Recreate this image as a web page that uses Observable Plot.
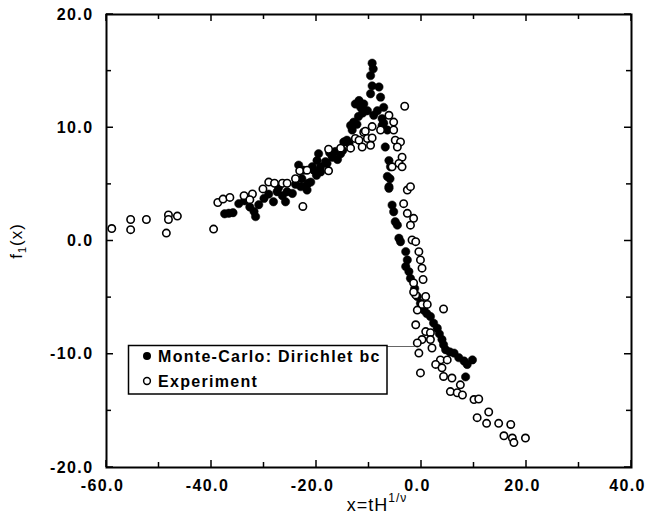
<!DOCTYPE html>
<html>
<head>
<meta charset="utf-8">
<script src="https://cdn.jsdelivr.net/npm/d3@7"></script>
<script src="https://cdn.jsdelivr.net/npm/@observablehq/plot@0.6"></script>
<style>
  html, body { margin: 0; padding: 0; background: #fff; }
  #chart { width: 648px; height: 520px; }
</style>
</head>
<body>
<div id="chart"></div>
<script>
// Monte-Carlo: Dirichlet bc (filled)
const mcX = [-37.5,-36.7,-35.9,-34.8,-33.7,-32.7,-31.9,-31.6,-31.0,-30.0,-28.2,-29.1,-27.5,-27.2,-26.5,-25.9,-25.6,-24.6,-24.0,-23.0,-22.8,-21.8,-21.1,-22.1,-21.6,-23.4,-22.5,-20.8,-20.5,-20.0,-19.9,-19.6,-19.2,-19.2,-18.3,-18.0,-17.5,-17.0,-16.4,-16.0,-15.4,-15.0,-14.8,-14.2,-13.8,-13.5,-13.2,-12.9,-12.3,-12.6,-11.9,-11.6,-11.0,-10.3,-9.1,-7.5,-7.5,-7.2,-8.4,-7.2,-7.8,-9.7,-8.1,-9.4,-9.7,-9.2,-9.4,-6.5,-6.9,-6.2,-5.9,-6.5,-6.0,-6.2,-6.2,-5.6,-5.3,-5.0,-4.6,-4.3,-4.0,-3.0,-2.7,-3.0,-2.4,-2.1,-1.3,-0.8,-0.2,0.4,0.4,1.0,1.7,2.3,3.0,3.4,3.9,4.2,4.6,5.4,6.2,7.1,8.1,8.7,9.7,8.4,-12.0,-11.2];
const mcY = [2.4,2.45,2.5,3.3,3.55,3.0,2.6,2.15,3.2,3.76,3.46,4.14,4.35,4.73,4.0,3.46,4.35,4.2,5.0,4.8,5.5,4.5,5.2,4.8,5.1,6.7,6.25,6.55,6.25,5.8,7.1,7.7,6.1,6.55,7.0,6.85,7.8,7.4,7.9,7.2,7.7,8.0,8.75,8.9,8.6,10.2,9.8,10.5,10.3,12.1,12.4,11.8,12.1,11.5,11.1,10.8,10.2,10.4,11.5,11.8,12.7,13.0,13.6,13.7,14.6,15.2,15.7,9.8,8.3,7.1,6.55,5.7,5.5,4.8,4.65,3.17,2.58,1.7,1.4,0.24,-0.06,-0.94,-1.67,-2.26,-2.7,-3.3,-4.2,-4.9,-5.5,-5.9,-6.1,-6.4,-6.67,-7.25,-7.7,-8.2,-8.7,-9.16,-9.6,-9.8,-9.9,-10.3,-10.6,-10.9,-10.5,-12.0,11.0,11.3];

// Experiment (open)
const expX = [-59.0,-55.4,-55.4,-52.4,-48.6,-48.2,-48.2,-46.5,-39.6,-38.8,-37.8,-36.5,-33.8,-32.2,-32.7,-30.2,-29.1,-28.0,-26.5,-25.6,-24.0,-22.6,-23.2,-21.8,-17.7,-17.7,-15.4,-13.5,-12.6,-11.9,-11.3,-11.0,-10.7,-10.3,-9.4,-9.4,-9.7,-7.8,-6.2,-5.3,-5.3,-3.2,-5.0,-4.0,-4.6,-3.7,-4.3,-3.7,-5.6,-2.7,-2.1,-3.4,-2.7,-1.5,-2.1,-1.8,-1.1,-0.5,-0.2,0.1,0.3,-1.5,-1.1,0.8,4.2,0.1,-1.5,1.1,-0.8,-1.1,0.8,1.7,0.1,1.7,-0.8,2.0,-0.5,3.6,4.9,2.7,3.9,-0.2,4.2,5.8,7.4,5.5,6.8,7.8,10.0,10.9,12.8,10.6,12.4,14.7,17.0,15.7,17.3,17.6,19.8];
const expY = [1.1,1.9,1.0,1.9,0.7,2.3,1.9,2.2,1.05,3.4,3.7,3.85,4.0,4.15,3.65,4.6,5.2,5.1,5.1,5.1,5.5,3.05,6.2,6.25,6.2,8.1,8.2,8.2,9.05,8.9,8.3,9.6,9.7,9.05,10.1,9.1,8.45,9.8,11.1,10.5,9.8,11.9,8.9,8.75,8.3,7.4,6.85,6.55,6.55,4.5,4.8,3.3,2.44,2.0,1.4,0.09,-0.06,-0.94,-1.67,-2.4,-3.4,-3.7,-4.76,-4.9,-6.0,-5.6,-4.5,-5.6,-6.1,-7.4,-8.0,-8.1,-8.7,-8.7,-9.0,-9.45,-9.9,-10.5,-10.5,-10.9,-11.2,-11.65,-11.96,-12.1,-12.7,-13.3,-13.4,-13.6,-14.0,-13.95,-15.1,-15.6,-16.1,-16.1,-16.2,-17.2,-17.4,-17.8,-17.4];

const xMajor = [-60, -40, -20, 0, 20, 40];
const xMinor = [-50, -30, -10, 10, 30];
const yMajor = [-20, -10, 0, 10, 20];
const yMinor = [-15, -5, 5, 15];
const legendLabels = ["Monte-Carlo: Dirichlet bc", "Experiment"];

const mc = mcX.map((x, i) => ({x, y: mcY[i]}));
const ex = expX.map((x, i) => ({x, y: expY[i]}));
const fmt = d => d.toFixed(1);

const FONT = "'Liberation Sans', Arial, Helvetica, sans-serif";

const chart = Plot.plot({
  width: 648,
  height: 520,
  marginLeft: 106,
  marginRight: 17,
  marginTop: 14,
  marginBottom: 53,
  x: {domain: [-60, 40]},
  y: {domain: [-20, 20]},
  style: {fontFamily: FONT, fontSize: "16px", fontWeight: "bold", background: "#fff", color: "#000", letterSpacing: "1.4px"},
  marks: [
    Plot.axisX({ticks: xMajor, tickSize: 0, tickPadding: 12, tickFormat: fmt, label: null, fontSize: 16, dx: -4}),
    Plot.axisY({ticks: yMajor, tickSize: 0, tickPadding: 13, tickFormat: fmt, label: null, fontSize: 16}),
    Plot.dot(mc, {x: "x", y: "y", r: 4.2, fill: "#000", stroke: "#000", strokeWidth: 0.5}),
    Plot.dot(ex, {x: "x", y: "y", r: 3.7, fill: "#fff", stroke: "#000", strokeWidth: 1.6}),
    Plot.frame({stroke: "#000", strokeWidth: 2})
  ]
});

document.getElementById("chart").appendChild(chart);

const svg = d3.select(chart);
const sx = chart.scale("x");
const sy = chart.scale("y");
const X0 = 106, X1 = 631, Y0 = 14, Y1 = 467;

// Inward tick marks on all four sides, placed with the chart's scales
const tg = svg.append("g").attr("stroke", "#000").attr("stroke-width", 1.5);
const xt = [...xMajor.map(v => [v, 7]), ...xMinor.map(v => [v, 5])];
const yt = [...yMajor.map(v => [v, 7]), ...yMinor.map(v => [v, 5])];
xt.forEach(([v, l]) => {
  const px = sx.apply(v);
  tg.append("line").attr("x1", px).attr("x2", px).attr("y1", Y1).attr("y2", Y1 - l);
  tg.append("line").attr("x1", px).attr("x2", px).attr("y1", Y0).attr("y2", Y0 + l);
});
yt.forEach(([v, l]) => {
  const py = sy.apply(v);
  tg.append("line").attr("y1", py).attr("y2", py).attr("x1", X0).attr("x2", X0 + l);
  tg.append("line").attr("y1", py).attr("y2", py).attr("x1", X1).attr("x2", X1 - l);
});

// Axis titles
const xtt = svg.append("text")
  .attr("x", 377).attr("y", 511)
  .attr("text-anchor", "middle")
  .style("font-family", FONT).style("font-size", "18px").style("font-weight", "normal").style("letter-spacing", "1px");
xtt.append("tspan").text("x=tH");
xtt.append("tspan").attr("dy", -9).style("font-size", "12px").text("1/\u03bd");

const ytt = svg.append("text")
  .attr("transform", "translate(22,241) rotate(-90)")
  .attr("text-anchor", "middle")
  .style("font-family", FONT).style("font-size", "17px").style("font-weight", "normal").style("letter-spacing", "1px");
ytt.append("tspan").text("f");
ytt.append("tspan").attr("dy", 4).style("font-size", "11px").text("1");
ytt.append("tspan").attr("dy", -4).text("(x)");

// Legend
const lg = svg.append("g");
lg.append("line").attr("x1", 387).attr("x2", 415).attr("y1", 346.5).attr("y2", 346.5).attr("stroke", "#666").attr("stroke-width", 1);
lg.append("rect").attr("x", 128.5).attr("y", 345.5).attr("width", 258.5).attr("height", 48.5)
  .attr("fill", "#fff").attr("stroke", "#000").attr("stroke-width", 1.5);
lg.append("circle").attr("cx", 147).attr("cy", 356).attr("r", 4).attr("fill", "#000");
lg.append("circle").attr("cx", 147).attr("cy", 381).attr("r", 3.4).attr("fill", "#fff").attr("stroke", "#000").attr("stroke-width", 1.5);
lg.selectAll("text.lbl").data(legendLabels).join("text")
  .attr("class", "lbl")
  .attr("x", 158).attr("y", (d, i) => 361.5 + i * 25)
  .attr("text-anchor", "start")
  .text(d => d)
  .style("font-family", FONT).style("font-size", "16px").style("font-weight", "bold").style("letter-spacing", "1.3px");
</script>
</body>
</html>
